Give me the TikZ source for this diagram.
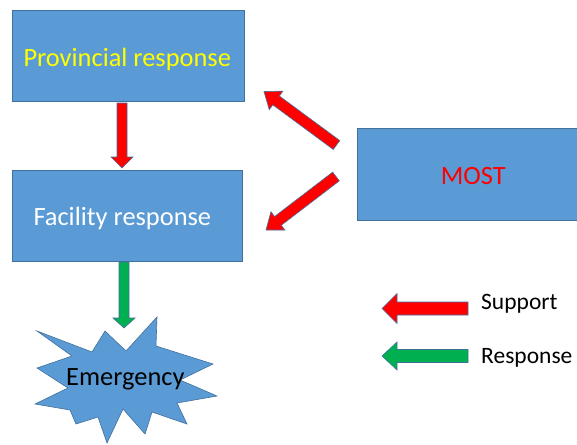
\documentclass[tikz,border=0pt]{standalone}
\usepackage{fontspec}
\setmainfont{Carlito}
\usetikzlibrary{calc}
\definecolor{boxblue}{HTML}{5B9BD5}
\definecolor{edgeblue}{HTML}{41719C}
\definecolor{arrred}{HTML}{FF0000}
\definecolor{arrgreen}{HTML}{00B050}
\definecolor{txtyellow}{HTML}{FFFF00}
\newcommand{\blockarrow}[6]{%
  \coordinate (bah) at ($(#3)!#6!(#2)$);
  \draw[#1] ($(#2)!#4!90:(#3)$) -- ($(bah)!#4!90:(#3)$) -- ($(bah)!#5!90:(#3)$) -- (#3)
    -- ($(bah)!#5!-90:(#3)$) -- ($(bah)!#4!-90:(#3)$) -- ($(#2)!#4!-90:(#3)$) -- cycle;}
\begin{document}
\begin{tikzpicture}[x=1pt,y=-1pt,
  box/.style={draw=edgeblue,fill=boxblue,line width=0.8pt,inner sep=0pt},
  boxtext/.style={inner sep=0pt,anchor=base west,font=\fontsize{26.4}{30}\selectfont},
  legtext/.style={inner sep=0pt,anchor=base west,font=\fontsize{23.5}{28}\selectfont},
  redarrow/.style={fill=arrred,draw=edgeblue,line width=0.6pt,line join=miter},
  greenarrow/.style={fill=arrgreen,draw=edgeblue,line width=0.6pt,line join=miter}]
\useasboundingbox (0,0) rectangle (577,444);
\fill[white] (0,0) rectangle (577,444);

% boxes
\node[box,minimum width=232pt,minimum height=91pt] (prov) at (128,55.5) {};
\node[box,minimum width=230pt,minimum height=91pt] (fac) at (127,215.5) {};
\node[box,minimum width=236pt,minimum height=92pt] (most) at (475,174) {};
\node[boxtext,text=txtyellow] (provtxt) at (23.3,66.5) {Provincial response};
\node[boxtext,text=white] (factxt) at (33.3,225) {Facility response};
\node[boxtext,text=arrred] (mosttxt) at (440.7,184.3) {MOST};

% emergency star
\draw[fill=boxblue,draw=edgeblue,line width=0.6pt,line join=miter]
  (37,331) -- (92,352) -- (105,331) -- (126,351) -- (157,317) -- (156,346)
  -- (213,364) -- (180,380) -- (217,396) -- (177,403) -- (187,424) -- (152,412)
  -- (145,434) -- (123,409) -- (107,443) -- (98,417) -- (76,424) -- (70,410)
  -- (35,404) -- (68,388) -- (37,368) -- (72,356) -- cycle;
\coordinate (emerg) at (124,380);
\node[boxtext,text=black] (emergtxt) at (66,385) {Emergency};

% connector end points
\coordinate (p2fs) at (122,103);
\coordinate (p2fe) at (122,168);
\coordinate (m2ps) at (336.5,145);
\coordinate (m2pe) at (264,91.5);
\coordinate (m2fs) at (336,176.5);
\coordinate (m2fe) at (266,230);
\coordinate (f2es) at (124,262);
\coordinate (f2ee) at (124,328);

\blockarrow{redarrow}{p2fs}{p2fe}{5pt}{11pt}{11pt}
\blockarrow{redarrow}{m2ps}{m2pe}{5.5pt}{11.5pt}{15pt}
\blockarrow{redarrow}{m2fs}{m2fe}{5.5pt}{11.5pt}{15pt}
\blockarrow{greenarrow}{f2es}{f2ee}{5pt}{11pt}{10pt}

% legend
\coordinate (lrs) at (468,308.5);
\coordinate (lre) at (382,308.5);
\coordinate (lgs) at (468,356);
\coordinate (lge) at (382,356);
\blockarrow{redarrow}{lrs}{lre}{6.5pt}{15pt}{15pt}
\blockarrow{greenarrow}{lgs}{lge}{6.5pt}{14pt}{15pt}
\node[legtext] (suptxt) at (481,309) {Support};
\node[legtext] (restxt) at (481,363.5) {Response};
\end{tikzpicture}
\end{document}
